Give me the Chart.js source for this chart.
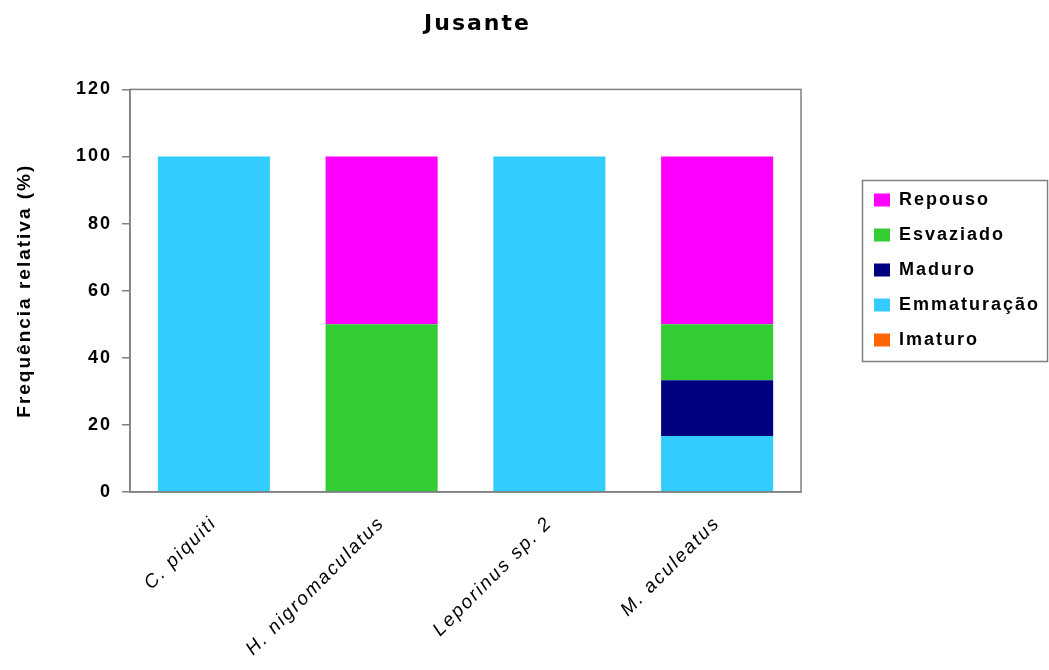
<!DOCTYPE html>
<html>
<head>
<meta charset="utf-8">
<script src="https://cdn.jsdelivr.net/npm/chart.js@4"></script>
<style>
  body { margin: 0; background: #fff; }
  #wrap { width: 1049px; height: 670px; }
</style>
</head>
<body>
<div id="wrap"><canvas id="grafico" width="1049" height="670"></canvas></div>
<script>
// Espécies (categorias)
const especies = ['C. piquiti', 'H. nigromaculatus', 'Leporinus sp. 2', 'M. aculeatus'];

// Frequência relativa (%) por estádio
const imaturo = [0, 0, 0, 0];
const emmaturacao = [100, 0, 100, 16.67];
const maduro = [0, 0, 0, 16.67];
const esvaziado = [0, 50, 0, 16.67];
const repouso = [0, 50, 0, 50];

const yTicks = [0, 20, 40, 60, 80, 100, 120];

const serie = (label, data, color) => ({
    label: label,
    data: data,
    backgroundColor: color,
    borderWidth: 0,
});

// Espaçamento de letras parecido com o do Excel
const espacamento = (chart) => { chart.ctx.letterSpacing = '2px'; };

// Posição da legenda e do título, molduras
const molduraPlugin = {
    id: 'moldura',
    beforeInit(chart) {
        const fit = chart.legend.fit;
        chart.legend.fit = function () {
            fit.call(this);
            this.width = 248;
        };
    },
    beforeUpdate: espacamento,
    beforeDraw: espacamento,
    afterLayout(chart) {
        const lg = chart.legend;
        lg.left += 56;
        lg.top = 174;
        const t = chart.titleBlock;
        t.left += 12;
        t.right += 12;
    },
    afterDraw(chart) {
        const ctx = chart.ctx;
        const a = chart.chartArea;
        ctx.save();
        ctx.strokeStyle = '#808080';
        ctx.lineWidth = 1.5;
        ctx.strokeRect(a.left, a.top, a.right - a.left, a.bottom - a.top);
        ctx.strokeRect(862.5, 180.5, 185, 181);
        ctx.restore();
    },
};

const ctx = document.getElementById('grafico').getContext('2d');
const grafico = new Chart(ctx, {
    type: 'bar',
    data: {
        labels: especies,
        datasets: [
            serie('Imaturo', imaturo, '#FF6600'),
            serie('Emmaturação', emmaturacao, '#33CCFF'),
            serie('Maduro', maduro, '#000080'),
            serie('Esvaziado', esvaziado, '#33CC33'),
            serie('Repouso', repouso, '#FF00FF'),
        ],
    },
    options: {
        responsive: false,
        animation: false,
        layout: { padding: 0 },
        datasets: { bar: { categoryPercentage: 1, barPercentage: 0.668 } },
        plugins: {
            title: {
                display: true,
                fullSize: false,
                text: 'Jusante',
                color: '#000',
                font: { family: 'DejaVu Sans', size: 22, weight: 'bold' },
                padding: { top: 11, bottom: 52 },
            },
            legend: {
                position: 'right',
                align: 'start',
                reverse: true,
                labels: {
                    boxWidth: 16,
                    boxHeight: 13,
                    padding: 17,
                    color: '#000',
                    font: { family: 'Liberation Sans', size: 18, weight: 'bold' },
                },
            },
            tooltip: { enabled: false },
        },
        scales: {
            x: {
                stacked: true,
                afterFit: (axis) => { axis.height = 178; },
                grid: { display: false },
                border: { color: '#808080', width: 1.5 },
                ticks: {
                    color: '#000',
                    maxRotation: 45,
                    minRotation: 45,
                    padding: 12,
                    font: { family: 'Liberation Sans', size: 19, style: 'italic' },
                },
            },
            y: {
                stacked: true,
                min: 0,
                max: 120,
                afterBuildTicks: (axis) => { axis.ticks = yTicks.map((v) => ({ value: v })); },
                afterFit: (axis) => { axis.width = 130; },
                grid: { drawOnChartArea: false, drawTicks: true, tickLength: 8, color: '#808080', lineWidth: 1.5 },
                border: { color: '#808080', width: 1.5 },
                ticks: {
                    color: '#000',
                    padding: 10,
                    font: { family: 'Liberation Sans', size: 18, weight: 'bold' },
                },
                title: {
                    display: true,
                    text: 'Frequência relativa (%)',
                    color: '#000',
                    padding: { top: 13, bottom: 0 },
                    font: { family: 'Liberation Sans', size: 19, weight: 'bold' },
                },
            },
        },
    },
    plugins: [molduraPlugin],
});
</script>
</body>
</html>
